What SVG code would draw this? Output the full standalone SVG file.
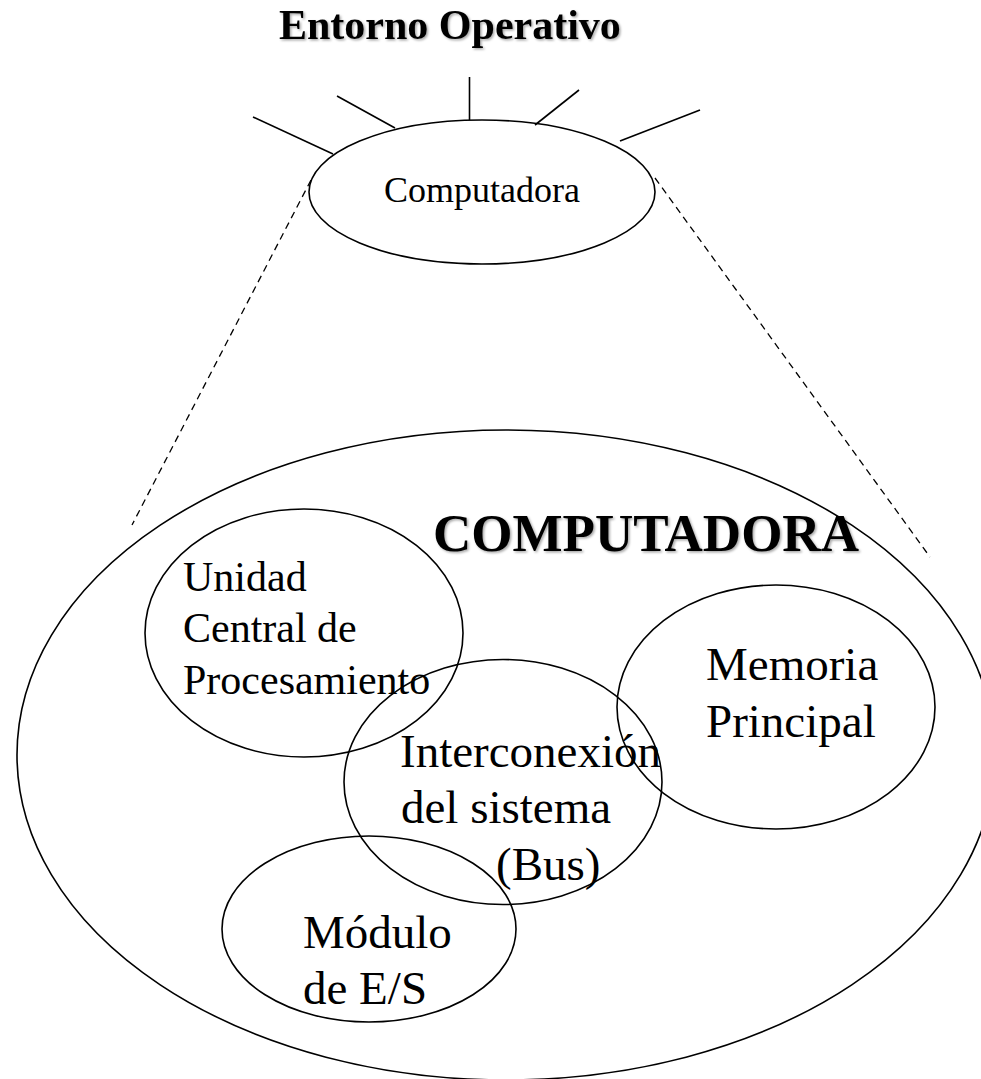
<svg xmlns="http://www.w3.org/2000/svg" width="981" height="1079" viewBox="0 0 981 1079">
<defs>
<style>
.bg{fill:#ffffff}
.shape{fill:none;stroke:#000;stroke-width:1.6}
.ray{stroke:#000;stroke-width:1.6;fill:none}
.dash{stroke:#000;stroke-width:1.3;fill:none;stroke-dasharray:7 5}
.t{font-family:"Liberation Serif","Times New Roman",serif;fill:#000}
.b{font-weight:bold}
</style>
<filter id="sh" x="-5%" y="-20%" width="110%" height="150%">
<feDropShadow dx="1.5" dy="1.5" stdDeviation="1" flood-color="#000" flood-opacity="0.35"/>
</filter>
</defs>
<rect class="bg" x="0" y="0" width="981" height="1079"/>
<g id="title">
<text class="t b" x="279" y="39" font-size="42" filter="url(#sh)">Entorno Operativo</text>
</g>
<g id="connectors">
<line class="ray" x1="253" y1="117" x2="333" y2="154"/>
<line class="ray" x1="337" y1="96" x2="395" y2="128"/>
<line class="ray" x1="469.5" y1="77" x2="469.5" y2="120"/>
<line class="ray" x1="579" y1="90" x2="535" y2="125"/>
<line class="ray" x1="700" y1="110" x2="620" y2="141"/>
<line class="dash" x1="311" y1="180" x2="132" y2="525"/>
<line class="dash" x1="655" y1="178" x2="930" y2="557"/>
</g>
<g id="computadora-small">
<ellipse class="shape" cx="482" cy="192" rx="173" ry="72"/>
<text class="t" x="384" y="202" font-size="36">Computadora</text>
</g>
<g id="computadora-big">
<ellipse class="shape" cx="506" cy="755" rx="489" ry="325"/>
<text class="t b" x="433" y="551" font-size="53" filter="url(#sh)">COMPUTADORA</text>
</g>
<g id="cpu">
<ellipse class="shape" cx="304" cy="633" rx="159" ry="124"/>
<text class="t" font-size="42"><tspan x="183" y="591">Unidad</tspan><tspan x="183" y="642">Central de</tspan><tspan x="183" y="694">Procesamiento</tspan></text>
</g>
<g id="memoria">
<ellipse class="shape" cx="776" cy="707" rx="159" ry="122"/>
<text class="t" font-size="47"><tspan x="706" y="680">Memoria</tspan><tspan x="706" y="737">Principal</tspan></text>
</g>
<g id="bus">
<ellipse class="shape" cx="503" cy="782" rx="159" ry="122.5"/>
<text class="t" font-size="47"><tspan x="400" y="767">Interconexión</tspan><tspan x="401" y="823">del sistema</tspan><tspan x="496" y="880">(Bus)</tspan></text>
</g>
<g id="io">
<ellipse class="shape" cx="369" cy="929" rx="147" ry="93"/>
<text class="t" font-size="47"><tspan x="303" y="948">Módulo</tspan><tspan x="303" y="1004">de E/S</tspan></text>
</g>
</svg>
